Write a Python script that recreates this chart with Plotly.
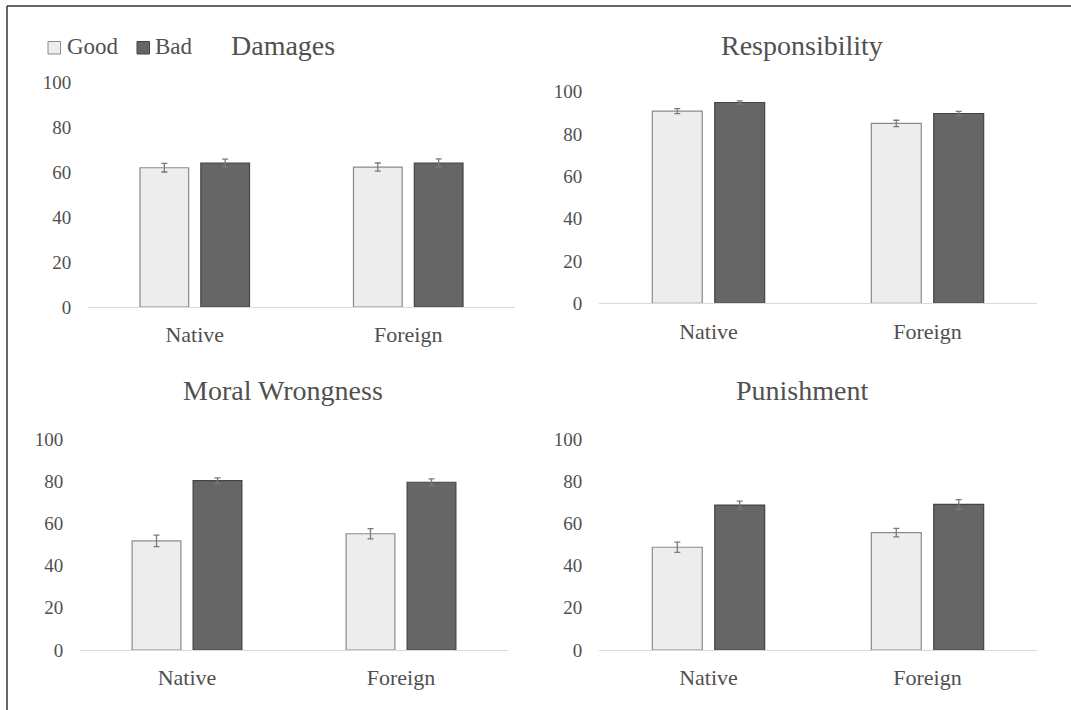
import plotly.graph_objects as go

# Conditions shown on every panel
categories = ["Native", "Foreign"]

# Mean ratings (Good / Bad outcome) and their standard errors
damages_good = [61.9, 62.2]
damages_bad = [64.0, 64.0]
damages_good_err = [1.9, 1.8]
damages_bad_err = [1.7, 1.8]

responsibility_good = [90.8, 85.0]
responsibility_bad = [94.9, 89.7]
responsibility_good_err = [1.2, 1.5]
responsibility_bad_err = [0.8, 1.0]

moral_good = [51.7, 55.1]
moral_bad = [80.3, 79.5]
moral_good_err = [2.7, 2.4]
moral_bad_err = [1.3, 1.6]

punishment_good = [48.7, 55.6]
punishment_bad = [68.7, 69.0]
punishment_good_err = [2.4, 2.0]
punishment_bad_err = [1.9, 2.3]

y_ticks = [0, 20, 40, 60, 80, 100]

W, H = 1071, 710
FONT = "Liberation Serif, Times New Roman, serif"
TEXT = "#505050"
GOOD_FILL, GOOD_LINE = "#ededed", "#8a8a8a"
BAD_FILL, BAD_LINE = "#666666", "#444444"
ERR = "#7a7a7a"


def fx(p):
    return p / W


def fy(p):
    return 1 - p / H


panels = [
    ("Damages", damages_good, damages_bad, damages_good_err, damages_bad_err,
     (88, 515), (307, 82), (283, 45)),
    ("Responsibility", responsibility_good, responsibility_bad,
     responsibility_good_err, responsibility_bad_err,
     (599, 1037), (303.3, 91.7), (802, 45)),
    ("Moral Wrongness", moral_good, moral_bad, moral_good_err, moral_bad_err,
     (80, 508), (650, 439), (283, 390)),
    ("Punishment", punishment_good, punishment_bad,
     punishment_good_err, punishment_bad_err,
     (599, 1037), (650, 439), (802, 390)),
]

fig = go.Figure()
layout = {}
annotations = []
shapes = []

for i, (title, good, bad, good_err, bad_err, xdom, ydom, tpos) in enumerate(panels):
    n = "" if i == 0 else str(i + 1)
    xa, ya = "x" + n, "y" + n
    fig.add_trace(go.Bar(
        x=categories, y=good, name="Good", xaxis=xa, yaxis=ya,
        marker=dict(color=GOOD_FILL, line=dict(color=GOOD_LINE, width=1.2)),
        error_y=dict(type="data", array=good_err, color=ERR, thickness=1.3, width=3),
        showlegend=False,
    ))
    fig.add_trace(go.Bar(
        x=categories, y=bad, name="Bad", xaxis=xa, yaxis=ya,
        marker=dict(color=BAD_FILL, line=dict(color=BAD_LINE, width=1.2)),
        error_y=dict(type="data", array=bad_err, color=ERR, thickness=1.3, width=3),
        showlegend=False,
    ))
    layout["xaxis" + n] = dict(
        domain=[fx(xdom[0]), fx(xdom[1])], anchor=ya,
        showgrid=False, zeroline=False,
        showline=True, linecolor="#d9d9d9", linewidth=1,
        ticks="outside", ticklen=8, tickcolor="rgba(0,0,0,0)",
        tickfont=dict(family=FONT, size=22, color=TEXT),
        automargin=False, fixedrange=True,
    )
    layout["yaxis" + n] = dict(
        domain=[fy(ydom[0]), fy(ydom[1])], anchor=xa, range=[0, 100],
        tickvals=y_ticks, showgrid=False, zeroline=False, showline=False,
        ticks="outside", ticklen=12, tickcolor="rgba(0,0,0,0)",
        tickfont=dict(family=FONT, size=19, color=TEXT),
        automargin=False, fixedrange=True,
    )
    annotations.append(dict(
        text=title, xref="paper", yref="paper",
        x=fx(tpos[0]), y=fy(tpos[1]), xanchor="center", yanchor="middle",
        showarrow=False, font=dict(family=FONT, size=28, color=TEXT),
    ))

# Key for the two outcome series, top-left corner
legend_items = [("Good", GOOD_FILL, GOOD_LINE, 48, 67), ("Bad", BAD_FILL, BAD_LINE, 137, 155)]
for label, fill, line, sq_x, txt_x in legend_items:
    shapes.append(dict(
        type="rect", xref="paper", yref="paper",
        x0=fx(sq_x), x1=fx(sq_x + 12.5), y0=fy(54), y1=fy(41.5),
        fillcolor=fill, line=dict(color=line, width=1),
    ))
    annotations.append(dict(
        text=label, xref="paper", yref="paper",
        x=fx(txt_x - 2), y=fy(46), xanchor="left", yanchor="middle",
        showarrow=False, font=dict(family=FONT, size=23, color=TEXT),
    ))

# Outer frame: top and left edges
shapes += [
    dict(type="line", xref="paper", yref="paper",
         x0=fx(7), x1=1, y0=fy(6), y1=fy(6),
         line=dict(color="#333333", width=1.5)),
    dict(type="line", xref="paper", yref="paper",
         x0=fx(7), x1=fx(7), y0=0, y1=fy(6),
         line=dict(color="#333333", width=1.5)),
]

fig.update_layout(
    **layout,
    width=W, height=H, autosize=False,
    margin=dict(l=0, r=0, t=0, b=0, pad=0, autoexpand=False),
    paper_bgcolor="white", plot_bgcolor="white",
    barmode="group", bargap=0.43, bargroupgap=0.2,
    showlegend=False,
    annotations=annotations,
    shapes=shapes,
)

fig.write_html("out.html")
